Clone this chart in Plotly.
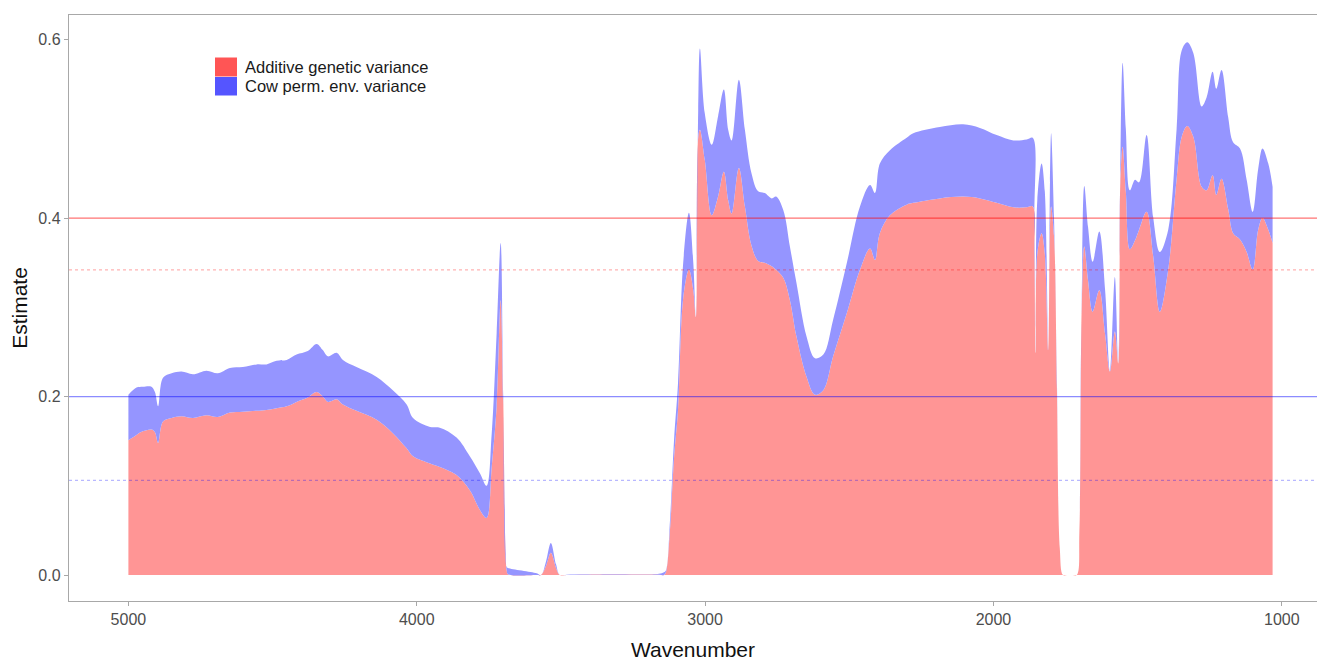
import plotly.graph_objects as go

# Wavenumbers (cm^-1), from 5000 down to the end of the spectrum
wavenumber = [
    5000, 4972, 4950, 4920, 4908, 4897, 4880, 4850, 4816, 4776, 4729, 4690, 4648,
    4603, 4555, 4521, 4486, 4451, 4417, 4378, 4347, 4326, 4308, 4278, 4256, 4209,
    4139, 4083, 4035, 4013, 3954, 3920, 3862, 3816, 3781, 3758, 3740, 3723, 3709,
    3700, 3688, 3684, 3584, 3569, 3552, 3535, 3517, 3504, 3480, 3420, 3365, 3226,
    3160, 3143, 3136,
    3122, 3108, 3094, 3076, 3056, 3041, 3032, 3024, 3018, 3001, 2977, 2955, 2935,
    2920, 2908, 2883, 2862, 2839, 2816, 2793, 2769, 2754, 2729, 2706, 2683, 2648,
    2619, 2590, 2556, 2509, 2463, 2428, 2411, 2394, 2359, 2301, 2278, 2186, 2105,
    2047, 1989, 1931, 1885, 1864, 1858, 1854, 1848, 1833, 1822, 1810, 1804, 1800,
    1790, 1780, 1770, 1759, 1745, 1725, 1711, 1702, 1694, 1685, 1672, 1656, 1633,
    1613, 1596,
    1579, 1567, 1560, 1552, 1541, 1527, 1509, 1495, 1469, 1446, 1423, 1394, 1365,
    1347, 1328, 1307, 1278, 1261, 1240, 1227, 1209, 1186, 1169, 1145, 1122, 1101,
    1082, 1067, 1047, 1032,
]

# Additive genetic variance estimates
additive = [
    0.151, 0.157, 0.161, 0.163, 0.160, 0.148, 0.172, 0.176, 0.178, 0.176, 0.179, 0.177, 0.182,
    0.183, 0.184, 0.185, 0.187, 0.189, 0.194, 0.199, 0.205, 0.200, 0.194, 0.197, 0.191, 0.184,
    0.174, 0.159, 0.142, 0.133, 0.125, 0.121, 0.112, 0.095, 0.073, 0.064, 0.121, 0.189, 0.308,
    0.195, 0.005, 0.001, 0.000, 0.000, 0.010, 0.025, 0.008, 0.000, 0.000, 0.0003, 0.0005, 0.0005,
    0.0003, 0.000, 0.003,
    0.050, 0.130, 0.185, 0.310, 0.342, 0.319, 0.289, 0.490, 0.499, 0.465, 0.403, 0.424, 0.452,
    0.420, 0.405, 0.456, 0.413, 0.369, 0.352, 0.350, 0.346, 0.342, 0.333, 0.308, 0.267, 0.222,
    0.202, 0.207, 0.245, 0.293, 0.342, 0.366, 0.353, 0.383, 0.403, 0.415, 0.417, 0.422, 0.424,
    0.422, 0.417, 0.412, 0.412, 0.413, 0.360, 0.249, 0.360, 0.383, 0.360, 0.252, 0.390, 0.413,
    0.380, 0.210, 0.030, 0.000, 0.000, 0.000, 0.000, 0.050, 0.300, 0.368, 0.330, 0.295, 0.319,
    0.270, 0.228,
    0.273, 0.237, 0.440, 0.480, 0.430, 0.365, 0.375, 0.387, 0.407, 0.357, 0.295, 0.342, 0.443,
    0.491, 0.503, 0.491, 0.435, 0.431, 0.448, 0.426, 0.444, 0.410, 0.383, 0.376, 0.362, 0.342,
    0.387, 0.400, 0.387, 0.372,
]

# Cow permanent environmental variance estimates
cow_perm_env = [
    0.051, 0.053, 0.050, 0.048, 0.045, 0.041, 0.049, 0.050, 0.050, 0.049, 0.050, 0.049, 0.050,
    0.050, 0.052, 0.051, 0.053, 0.052, 0.053, 0.052, 0.054, 0.052, 0.051, 0.052, 0.050, 0.049,
    0.048, 0.048, 0.049, 0.043, 0.041, 0.044, 0.042, 0.038, 0.041, 0.036, 0.038, 0.082, 0.064,
    0.005, 0.004, 0.007, 0.002, 0.000, 0.005, 0.011, 0.004, 0.000, 0.0003, 0.0005, 0.0005, 0.0005,
    0.001, 0.003, 0.002,
    0.010, 0.020, 0.030, 0.040, 0.064, 0.031, 0.000, 0.030, 0.091, 0.052, 0.079, 0.090, 0.092,
    0.079, 0.082, 0.099, 0.086, 0.081, 0.078, 0.078, 0.076, 0.082, 0.076, 0.060, 0.060, 0.045,
    0.041, 0.040, 0.041, 0.056, 0.071, 0.071, 0.075, 0.078, 0.073, 0.075, 0.078, 0.080, 0.081,
    0.079, 0.076, 0.075, 0.076, 0.077, 0.040, 0.000, 0.060, 0.078, 0.070, 0.000, 0.050, 0.082,
    0.020, 0.010, 0.000, 0.000, 0.000, 0.000, 0.000, 0.000, 0.008, 0.068, 0.060, 0.056, 0.066,
    0.050, 0.000,
    0.061, 0.000, 0.010, 0.094, 0.070, 0.066, 0.068, 0.053, 0.086, 0.044, 0.067, 0.045, 0.056,
    0.097, 0.094, 0.094, 0.090, 0.104, 0.116, 0.119, 0.122, 0.103, 0.102, 0.102, 0.081, 0.065,
    0.068, 0.078, 0.074, 0.063,
]

series_names = ["Additive genetic variance", "Cow perm. env. variance"]

# Horizontal reference levels with their colour and dash style
ref_levels = [0.4, 0.342, 0.2, 0.106]
ref_styles = [
    ("rgba(255,0,0,0.55)", "solid"),
    ("rgba(255,0,0,0.30)", "3px,3px"),
    ("rgba(0,0,255,0.45)", "solid"),
    ("rgba(0,0,255,0.28)", "3px,3px"),
]

x_ticks = [5000, 4000, 3000, 2000, 1000]
y_ticks = [0.0, 0.2, 0.4, 0.6]

# Stacked areas: the second component sits on top of the first
stacked_top = [a + c for a, c in zip(additive, cow_perm_env)]
curve = dict(width=0.01, shape="spline", smoothing=1.0)

fig = go.Figure()
fig.add_trace(go.Scatter(
    x=wavenumber, y=additive, name=series_names[0], mode="lines",
    line=dict(curve, color="#FF9595"), fill="tozeroy", fillcolor="#FF9595",
    showlegend=False,
))
fig.add_trace(go.Scatter(
    x=wavenumber, y=stacked_top, name=series_names[1], mode="lines",
    line=dict(curve, color="#9595FF"), fill="tonexty", fillcolor="#9595FF",
    showlegend=False,
    customdata=cow_perm_env, hovertemplate="%{x}: %{customdata}<extra></extra>",
))

for level, (colour, dash) in zip(ref_levels, ref_styles):
    fig.add_shape(type="line", xref="paper", x0=0, x1=1, yref="y", y0=level, y1=level,
                  line=dict(color=colour, width=1.2, dash=dash), layer="above")

# Legend keys drawn in paper space
W, H = 1317, 661
ML, MR, MT, MB = 69, 0, 15, 60
PW, PH = W - ML - MR, H - MT - MB


def px(xp):
    return (xp - ML) / PW


def py(yp):
    return (H - MB - yp) / PH


legend_colours = ["#FF5555", "#5555FF"]
legend_rows = [(57.5, 76.5), (77.0, 95.5)]
for name, colour, (top, bottom) in zip(series_names, legend_colours, legend_rows):
    fig.add_shape(type="rect", xref="paper", yref="paper",
                  x0=px(215), x1=px(237), y0=py(bottom), y1=py(top),
                  fillcolor=colour, line=dict(width=0), layer="above")
    fig.add_annotation(xref="paper", yref="paper", x=px(242.5), y=py((top + bottom) / 2),
                       text=name, showarrow=False, xanchor="left", yanchor="middle",
                       font=dict(family="Liberation Sans", size=16.5, color="#1a1a1a"))

axis_line = "#A8A8A8"
fig.update_layout(
    width=W, height=H,
    margin=dict(l=ML, r=MR, t=MT, b=MB, pad=0),
    paper_bgcolor="white", plot_bgcolor="white",
    showlegend=False,
    font=dict(family="Liberation Sans"),
    xaxis=dict(
        range=[5206, 878], tickvals=x_ticks, ticktext=[str(v) for v in x_ticks],
        showgrid=False, zeroline=False, showline=True, mirror=True,
        linecolor=axis_line, linewidth=1.4,
        ticks="outside", ticklen=4, tickcolor=axis_line, tickwidth=1,
        tickfont=dict(size=16, color="#4d4d4d"),
        title=dict(text="Wavenumber", font=dict(size=21, color="#111111"), standoff=20),
        automargin=False,
    ),
    yaxis=dict(
        range=[-0.0291, 0.6275], tickvals=y_ticks, ticktext=[f"{v:.1f}" for v in y_ticks],
        showgrid=False, zeroline=False, showline=True,
        linecolor=axis_line, linewidth=1.4,
        ticks="outside", ticklen=4, tickcolor=axis_line, tickwidth=1,
        tickfont=dict(size=16, color="#4d4d4d"),
        title=dict(text="Estimate", font=dict(size=21, color="#111111"), standoff=4),
        automargin=False,
    ),
)

fig.write_html("out.html")
